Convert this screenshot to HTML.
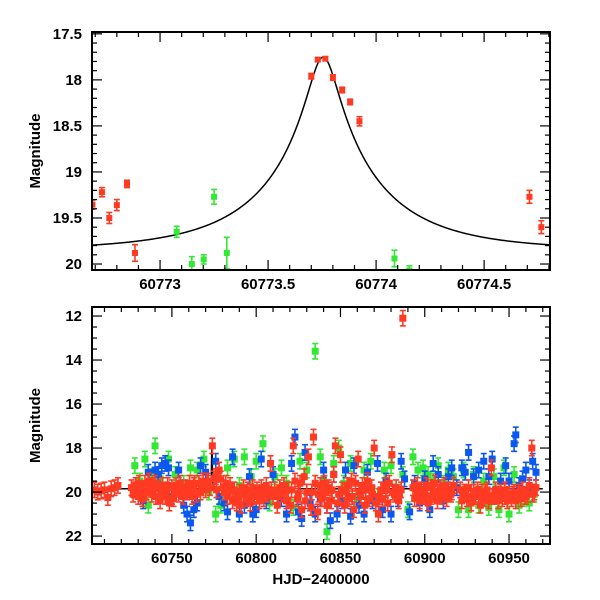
<!DOCTYPE html>
<html><head><meta charset="utf-8"><style>
body{margin:0;background:#fff}
svg{display:block}
text{font-family:"Liberation Sans",sans-serif;font-size:15px;font-weight:bold;fill:#000}
</style></head><body>
<svg id="c" width="600" height="600" viewBox="0 0 600 600"></svg>
<script>
// ---- top panel data ----
const topRedT=[60772.687,60772.731,60772.765,60772.80,60772.847,60772.884,60773.70,60773.73,60773.765,60773.80,60773.843,60773.88,60773.923,60774.71,60774.765];
const topRedM=[19.355,19.22,19.50,19.36,19.13,19.88,17.96,17.78,17.77,17.975,18.11,18.24,18.45,19.27,19.60];
const topRedE=[0.05,0.05,0.06,0.06,0.04,0.09,0.03,0.02,0.02,0.03,0.03,0.03,0.05,0.07,0.07];
const topGreenT=[60773.077,60773.147,60773.202,60773.25,60773.309,60774.085,60774.154];
const topGreenM=[19.65,20.0,19.95,19.27,19.88,19.94,20.07];
const topGreenE=[0.06,0.08,0.05,0.08,0.17,0.09,0.05];
const modelParams=[60773.755,0.12,0.55,19.85,0.8]; // t0,u0,tE,baseline,fs
const topXTicks=[60773,60773.5,60774,60774.5];
const topXLabels=["60773","60773.5","60774","60774.5"];
const topYTicks=[17.5,18,18.5,19,19.5,20];
const topYLabels=["17.5","18","18.5","19","19.5","20"];
// ---- bottom panel data ----
const redT=[60704,60706,60708,60710,60712,60714,60716,60718,
60726,60727,60728.5,60730,60731,60732.5,60734,60735,60736.5,60738,60739,60740.5,60742,60743,60744.5,60746,60747,60748.5,60750,60751,60752.5,60754,60755,60756.5,60758,60759,60760.5,60762,60763,60764.5,60766,60767,60768.5,60770,60771,60772.5,60774,60775,60776.5,60778,60779,60780.5,60782,60783,60784.5,60786,60787,60788.5,60790,60791,60792.5,60794,60795,60796.5,60798,60799,60800.5,60802,60803,60804.5,60806,60807,60808.5,60810,60811,60812.5,60814,60815,60816.5,60818,60819,60820.5,60822,60823,60824.5,60826,60827,60828.5,60830,60831,60832.5,60834,60835,60836.5,60838,60839,60840.5,60842,60843,60844.5,60846,60847,60848.5,60850,60851,60852.5,60854,60855,60856.5,60858,60859,60860.5,60862,60863,60864.5,60866,60867,60868.5,60870,60871,60872.5,60874,60875,60876.5,60878,60879,60880.5,60882,60883,60884.5,60886,60887,
60893,60894,60895.5,60897,60898,60899.5,60901,60902,60903.5,60905,60906,60907.5,60909,60910,60911.5,60913,60914,60915.5,60917,
60921,60922,60923.5,60925,60926,60927.5,60929,60930,60931.5,60933,60934,60935.5,60937,60938,60939.5,60941,60942,60943.5,60945,60946,60947.5,60949,60950,60951.5,60953,60954,60955.5,60957,60958,60959.5,60961,60962,60963.5,60965,60966];
const redM=[19.9,20.0,19.95,19.9,20.25,19.85,19.8,19.7,
19.8,20.1,19.7,20.2,19.9,20.3,19.6,20.0,19.5,20.1,19.7,20.2,19.8,20.4,19.7,20.2,19.9,20.5,19.8,20.3,19.7,20.1,19.6,20.2,19.8,20.0,19.6,20.2,19.7,20.1,19.6,20.0,19.5,19.9,19.5,19.8,17.9,19.4,19.9,19.0,19.4,19.8,19.6,20.2,19.7,20.4,19.9,20.5,20.0,20.6,19.8,20.3,19.9,20.5,19.8,20.2,19.9,20.4,19.8,20.3,19.7,20.1,18.7,20.2,19.9,20.6,19.8,20.1,19.7,20.4,19.9,20.6,17.9,19.5,20.3,19.6,20.8,19.3,20.0,18.4,20.7,17.5,19.6,20.9,19.7,20.3,19.6,20.6,19.8,20.4,19.2,17.9,20.5,18.3,19.9,20.6,19.7,20.3,19.5,20.8,19.6,18.5,20.2,19.7,20.6,19.5,20.3,19.8,18.0,20.5,21.0,19.9,20.3,19.7,20.5,19.6,18.3,20.1,19.8,20.4,19.9,12.1,
19.8,20.3,19.7,20.4,19.9,20.2,19.7,20.5,19.8,20.1,19.6,20.4,19.8,20.2,19.7,20.3,19.9,20.1,19.7,
19.9,20.4,20.0,20.3,19.8,20.5,20.0,20.2,19.9,20.6,20.0,20.3,19.9,20.4,18.9,20.2,19.9,20.4,20.0,20.3,19.9,20.4,20.1,20.3,20.0,20.4,20.1,20.3,19.9,20.2,20.1,19.7,18.0,20.0,19.8];
const red2T=[60727.5,60730.5,60733.5,60737,60740,60743.5,60747.5,60751.5,60755.5,60759.5,60763.5,60767.5,60771.5,60776,60781,60785,60789,60793,60797,60801,60805,60809,60813,60817,60821,60825,60829,60833,60837,60841,60845,60849,60853,60857,60861,60865,60869,60873,60877,60881,60885,60896,60900,60904,60908,60912,60916,60924,60928,60932,60936,60940,60944,60948,60952,60956,60960,60964];
const red2M=[19.9,19.6,20.1,19.8,19.6,20.0,19.7,20.0,19.8,19.9,19.6,19.8,19.6,19.3,20.0,19.9,20.2,20.1,20.0,20.1,20.0,19.9,20.2,20.0,19.9,20.1,20.4,20.0,20.1,20.0,19.9,20.1,20.0,20.2,20.0,19.9,20.1,20.2,19.9,20.0,20.1,20.0,20.0,20.2,20.0,20.1,20.0,20.1,20.2,20.1,20.0,20.2,20.1,20.2,20.1,20.0,20.2,20.1];
const blueT=[60733,60736,60740,60742,60744,60746,60748,60750,60754,60757,60759,60761,60763,60765,60767,60770,60776,60778,60781,60783,60786,60790,60793,60796,60798,60800,60803,60806,60810,60815,60818,60821,60823,60825,60827,60829,60832,60835,60838,60840,60842,60844,60846,60848,60851,60853,60856,60858,60861,60864,60866,60869,60872,60875,60877,60880,60884,60886,60888,60891,60894,60897,60900,60903,60905,60908,60911,60914,60916,60919,60922,60924,60926,60929,60932,60935,60938,60940,60942,60945,60948,60950,60953,60954,60956,60958,60960,60962,60964,60966];
const blueM=[20.4,19.1,19.0,19.2,18.8,18.7,18.9,20.2,19.0,20.6,21.0,21.4,20.8,20.5,18.8,19.1,18.6,20.2,20.5,20.9,18.4,21.0,20.6,19.3,21.0,20.8,18.5,20.4,19.2,20.3,21.0,18.7,17.5,20.9,21.2,18.2,20.5,21.0,20.3,19.0,20.6,21.3,19.2,21.0,20.4,19.0,21.1,18.8,20.6,21.0,19.1,20.4,18.7,20.8,19.5,21.0,20.3,18.6,19.4,20.9,19.6,20.5,19.4,20.8,18.7,19.2,20.4,19.3,18.9,19.8,18.9,19.1,18.2,19.3,19.0,18.6,19.3,18.5,20.1,19.5,18.8,19.5,17.8,17.4,19.7,19.4,19.0,19.8,18.6,19.1];
const greenT=[60728,60731,60734,60736,60738,60740,60743,60748,60752,60757,60761,60765,60769,60772,60776,60779,60783,60787,60790,60793,60797,60800,60804,60808,60811,60815,60818,60822,60826,60830,60835,60838,60840,60842,60846,60849,60852,60856,60860,60864,60868,60872,60876,60880,60884,60887,60890,60893,60896,60899,60902,60905,60908,60911,60914,60917,60920,60923,60926,60929,60932,60935,60938,60941,60944,60947,60950,60953,60956,60959,60962,60965];
const greenM=[18.8,19.5,18.5,20.6,19.3,17.9,19.4,18.5,19.2,19.6,18.9,19.0,18.5,20.0,21.0,20.6,18.9,18.5,19.7,18.4,19.3,18.6,17.8,20.5,19.3,18.9,19.6,20.7,18.6,19.0,13.6,18.4,19.4,21.8,18.7,18.0,19.6,18.7,20.3,19.0,18.6,20.2,19.0,18.8,20.0,19.2,20.8,18.4,19.0,18.9,19.2,19.5,18.8,19.6,19.0,19.3,20.8,19.0,20.8,19.2,20.6,19.5,20.7,19.3,20.8,18.9,21.0,19.2,20.6,20.3,20.5,20.1];
const botXTicks=[60750,60800,60850,60900,60950];
const botXLabels=["60750","60800","60850","60900","60950"];
const botYTicks=[12,14,16,18,20,22];
const botYLabels=["12","14","16","18","20","22"];

const NS="http://www.w3.org/2000/svg";
const svg=document.getElementById('c');
function mk(tag,attrs,parent){const e=document.createElementNS(NS,tag);for(const k in attrs)e.setAttribute(k,attrs[k]);(parent||svg).appendChild(e);return e;}
function model(t){const [t0,u0,tE,base,fs]=modelParams;const tau=(t-t0)/tE;const u=Math.sqrt(u0*u0+tau*tau);const A=(u*u+2)/(u*Math.sqrt(u*u+4));return base-2.5*Math.log10(fs*A+1-fs);}

function panel(cfg){
  const {L,R,T,B,x0,x1,y0,y1}=cfg;
  const sx=v=>L+(v-x0)/(x1-x0)*(R-L);
  const sy=v=>T+(v-y0)/(y1-y0)*(B-T);
  const g=mk('g',{});
  
  
  const cid='clip'+cfg.name;
  const cp=mk('clipPath',{id:cid},g);mk('rect',{x:L,y:T,width:R-L,height:B-T},cp);
  const plot=mk('g',{'clip-path':'url(#'+cid+')'},g);
  let d='';const N=600;
  for(let i=0;i<=N;i++){const t=cfg.mx0+(cfg.mx1-cfg.mx0)*i/N;d+=(i?'L':'M')+sx(t).toFixed(2)+' '+sy(model(t)).toFixed(2);}
  const ln=mk('path',{d:d,fill:'none',stroke:'#000','stroke-width':1.5},plot);
  
  
  cfg.series.forEach(s=>{
    const sg=mk('g',{},plot);
    
    
    s.t.forEach((t,i)=>{
      const x=sx(t),y=sy(s.m[i]);const e=s.e?s.e[i]:s.ec;
      const ya=sy(s.m[i]-e),yb=sy(s.m[i]+e);
      mk('line',{x1:x,x2:x,y1:ya,y2:yb,stroke:s.c,'stroke-width':1.6},sg);
      mk('line',{x1:x-3,x2:x+3,y1:ya,y2:ya,stroke:s.c,'stroke-width':1.6},sg);
      mk('line',{x1:x-3,x2:x+3,y1:yb,y2:yb,stroke:s.c,'stroke-width':1.6},sg);
      const p=mk('rect',{x:x-cfg.ps/2,y:y-cfg.ps/2,width:cfg.ps,height:cfg.ps,fill:s.c},sg);
      
      
    });
  });
  const tk=mk('g',{stroke:'#000','stroke-width':1.2},g);
  for(let v=cfg.xmin0;v<=x1+1e-9;v+=cfg.xminor){v=Math.round(v*1000)/1000;if(v<x0)continue;const x=sx(v);const maj=cfg.xt.some(a=>Math.abs(a-v)<1e-6);const l=maj?10:5;
    mk('line',{x1:x,x2:x,y1:B,y2:B-l},tk);mk('line',{x1:x,x2:x,y1:T,y2:T+l},tk);}
  for(let v=cfg.ymin0;v<=y1+1e-9;v+=cfg.yminor){v=Math.round(v*1000)/1000;if(v<y0)continue;const y=sy(v);const maj=cfg.yt.some(a=>Math.abs(a-v)<1e-6);const l=maj?10:5;
    mk('line',{x1:L,x2:L+l,y1:y,y2:y},tk);mk('line',{x1:R,x2:R-l,y1:y,y2:y},tk);}
  cfg.xt.forEach((v,i)=>{const t=mk('text',{x:sx(v),y:B+19,'text-anchor':'middle'},g);t.textContent=cfg.xl[i];
    
    });
  cfg.yt.forEach((v,i)=>{const t=mk('text',{x:L-10,y:sy(v)+5,'text-anchor':'end'},g);t.textContent=cfg.yl[i];
    
    });
  const fr=mk('rect',{x:L,y:T,width:R-L,height:B-T,fill:'none',stroke:'#000','stroke-width':2},g);
  
  
  const yt=mk('text',{x:0,y:0,'text-anchor':'middle',transform:'translate(40,'+((T+B)/2)+') rotate(-90)','font-size':'14'},g);
  yt.textContent='Magnitude';
  
  
}
panel({name:'zoom-panel',L:92,R:550,T:32,B:270,x0:60772.685,x1:60774.805,y0:17.48,y1:20.065,
  mx0:60772.6,mx1:60774.9,ps:6,xt:topXTicks,xl:topXLabels,yt:topYTicks,yl:topYLabels,
  xmin0:60772.7,xminor:0.1,ymin0:17.5,yminor:0.1,
  series:[{name:'red-series',t:topRedT,m:topRedM,e:topRedE,c:'#ff3a22'},{name:'green-series',t:topGreenT,m:topGreenM,e:topGreenE,c:'#33e833'}]});
panel({name:'full-panel',L:92,R:550,T:307,B:544,x0:60702.6,x1:60974.3,y0:11.59,y1:22.36,
  mx0:60703,mx1:60970,ps:7,xt:botXTicks,xl:botXLabels,yt:botYTicks,yl:botYLabels,
  xmin0:60710,xminor:10,ymin0:12,yminor:0.5,
  series:[{name:'green-series',t:greenT,m:greenM,ec:0.35,c:'#33e833'},{name:'blue-series',t:blueT,m:blueM,ec:0.35,c:'#0b58f0'},{name:'red-series',t:redT,m:redM,ec:0.35,c:'#ff3a22'},{name:'red-series-extra',t:red2T,m:red2M,ec:0.35,c:'#ff3a22'}]});
const xt=mk('text',{x:321,y:584,'text-anchor':'middle','font-family':'Liberation Serif, serif','font-size':'17'});
xt.textContent='HJD−2400000';


</script>
</body></html>
